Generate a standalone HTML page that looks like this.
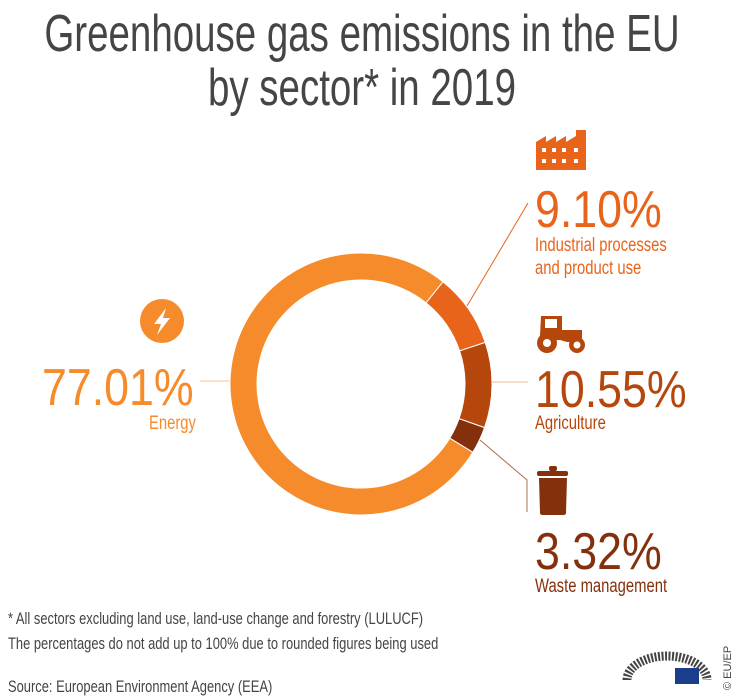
<!DOCTYPE html>
<html><head><meta charset="utf-8"><style>
body{margin:0;width:754px;height:696px;background:#fff;overflow:hidden;position:relative;font-family:"Liberation Sans",sans-serif}
.t{position:absolute;white-space:nowrap;transform-origin:0 0;transform:scaleX(0.78)}
.b{transform:scaleX(0.86)}
</style></head><body>
<div style="position:absolute;left:-138px;width:1000px;top:7px;text-align:center;color:#454545;font-size:52px;line-height:54px;white-space:nowrap;transform:scaleX(0.74);transform-origin:500px 0">Greenhouse gas emissions in the EU<br>by sector* in 2019</div>
<svg id="c" width="754" height="696" style="position:absolute;left:0;top:0"></svg>
<div class="t b" style="left:535px;top:180px;font-size:52px;color:#E8641B">9.10%</div>
<div class="t" style="left:535px;top:234px;font-size:19px;line-height:23px;color:#E8641B">Industrial processes<br>and product use</div>
<div class="t b" style="left:535px;top:360px;font-size:52px;color:#B5470C">10.55%</div>
<div class="t" style="left:535px;top:413px;font-size:19px;color:#B5470C">Agriculture</div>
<div class="t b" style="left:535px;top:522px;font-size:52px;color:#85300D">3.32%</div>
<div class="t" style="left:535px;top:576px;font-size:19px;color:#85300D">Waste management</div>
<div class="t b" style="left:42px;top:358px;font-size:52px;color:#F68B2C">77.01%</div>
<div class="t" style="left:149px;top:413px;font-size:19px;color:#F68B2C">Energy</div>
<div class="t" style="left:8px;top:609px;font-size:17px;color:#444;transform:scaleX(0.76)">* All sectors excluding land use, land-use change and forestry (LULUCF)</div>
<div class="t" style="left:8px;top:634px;font-size:17px;color:#444;transform:scaleX(0.76)">The percentages do not add up to 100% due to rounded figures being used</div>
<div class="t" style="left:8px;top:677px;font-size:17px;color:#444;transform:scaleX(0.76)">Source: European Environment Agency (EEA)</div>
<div style="position:absolute;left:722px;top:690px;transform:rotate(-90deg);transform-origin:0 0;font-size:11px;color:#444;white-space:nowrap">© EU/EP</div>
<script>
const sectors=["Industrial processes and product use","Agriculture","Waste management","Energy"];
const values=[9.10,10.55,3.32,77.01];
const colors=["#E8641B","#B5470C","#85300D","#F68B2C"];
const svg=document.getElementById('c');const NS="http://www.w3.org/2000/svg";
const cx=361,cy=384,R=131,r=104,start=38.7;
const total=values.reduce((a,b)=>a+b,0);
function pt(a,rad){const t=(a-90)*Math.PI/180;return [cx+rad*Math.cos(t),cy+rad*Math.sin(t)];}
let a=start;
values.forEach((v,i)=>{const s=a,e=a+v/total*360;a=e;const L=(e-s)>180?1:0;
const p1=pt(s,R),p2=pt(e,R),p3=pt(e,r),p4=pt(s,r);
const p=document.createElementNS(NS,'path');
p.setAttribute('d',`M${p1}A${R},${R} 0 ${L} 1 ${p2}L${p3}A${r},${r} 0 ${L} 0 ${p4}Z`);
p.setAttribute('fill',colors[i]);p.setAttribute('stroke','#fff');p.setAttribute('stroke-width','1');


svg.appendChild(p);});
function line(d,c,n){const l=document.createElementNS(NS,'path');l.setAttribute('d',d);l.setAttribute('stroke',c);l.setAttribute('fill','none');l.setAttribute('stroke-width','1');


svg.appendChild(l);}
line("M467,306L528,203","#E8641B","industrial-leader");
line("M492,382L528,382","#f4b89a","agriculture-leader");
line("M480,440L527,480L527,512","#b07050","waste-leader");
line("M200,381L230,381","#f9c49a","energy-leader");
svg.insertAdjacentHTML('beforeend',`
<g><circle cx="162" cy="321" r="22" fill="#F68B2C"/><path d="M166,308L154,324L161,324L157,335L170,318L163,318Z" fill="#fff"/></g>
<g fill="#E8641B"><path d="M536,170V142L546,136V142L556,136V142L566,136V142L576,136V130H586V170Z"/><g fill="#fff"><rect x="542" y="148" width="4" height="4"/><rect x="552" y="148" width="4" height="4"/><rect x="562" y="148" width="4" height="4"/><rect x="542" y="159" width="4" height="4"/><rect x="552" y="159" width="4" height="4"/><rect x="562" y="159" width="4" height="4"/><rect x="574" y="148" width="4" height="4"/><rect x="574" y="159" width="4" height="4"/></g></g>
<g fill="#B5470C"><path d="M541,316H562V330H582V342H567L560,340H548L540,336Z"/><rect x="545" y="319" width="12" height="9" fill="#fff"/><circle cx="547" cy="343" r="10"/><circle cx="547" cy="343" r="4" fill="#fff"/><circle cx="577" cy="345" r="8"/><circle cx="577" cy="345" r="3.5" fill="#fff"/></g>
<g fill="#85300D"><rect x="537" y="471" width="31" height="5" rx="2"/><rect x="549" y="466" width="8" height="5" rx="2"/><path d="M539,478H567L566,513Q566,515 563,515H543Q540,515 540,513Z"/></g>
<g><path d="M627,680A40,24 0 0 1 707,680" fill="none" stroke="#444" stroke-width="9" stroke-dasharray="2 1.5"/><rect x="675" y="668" width="24" height="16" fill="#1a3d8c"/></g>`);
</script>
</body></html>
